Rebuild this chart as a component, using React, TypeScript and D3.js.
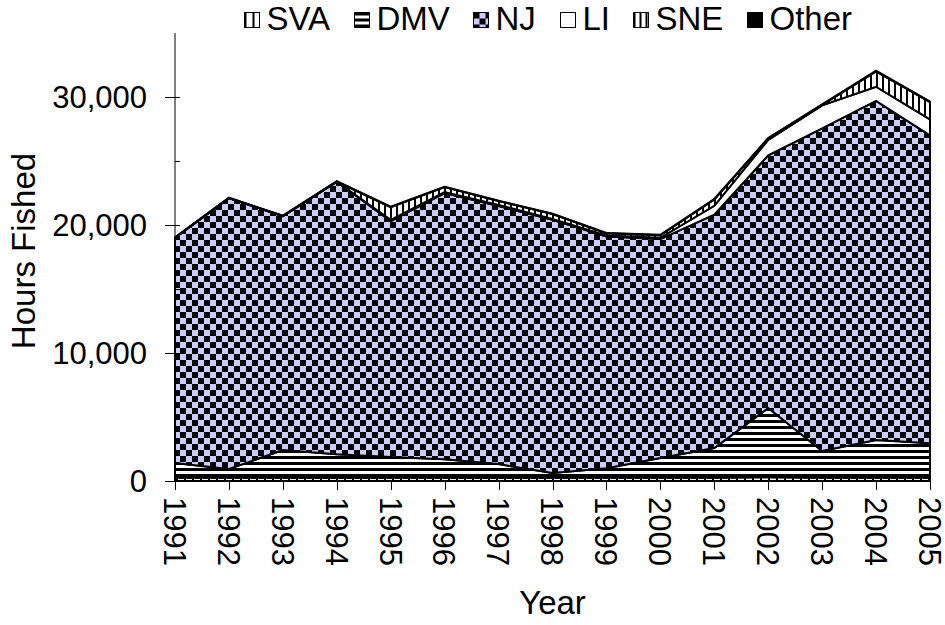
import React, { useEffect, useRef } from 'react';
import * as d3 from 'd3';

// Years on the x axis
const years = [1991, 1992, 1993, 1994, 1995, 1996, 1997, 1998, 1999, 2000, 2001, 2002, 2003, 2004, 2005];

// Hours fished per region (stacked bottom to top)
const sva = [250, 250, 250, 240, 250, 250, 240, 250, 250, 250, 260, 300, 250, 250, 250];
const dmv = [1150, 690, 2170, 1850, 1620, 1450, 1080, 370, 750, 1550, 2320, 5400, 2100, 2950, 2700];
const nj = [17600, 21160, 18280, 21300, 18430, 20800, 20170, 19780, 18100, 17100, 18220, 19750, 25200, 26500, 24050];
const li = [0, 0, 0, 0, 100, 80, 80, 80, 80, 100, 700, 1200, 1800, 1100, 1250];
const sne = [0, 0, 0, 0, 1000, 380, 300, 380, 170, 200, 500, 100, 30, 1200, 1350];
const other = [30, 30, 30, 30, 30, 30, 30, 30, 30, 30, 30, 50, 50, 50, 50];

const seriesNames = ['SVA', 'DMV', 'NJ', 'LI', 'SNE', 'Other'];
const yTicks = [0, 10000, 20000, 30000];
const yMinorTicks = [5000, 15000, 25000];

const FONT = '"Liberation Sans", Arial, sans-serif';

const App = () => {
  const svgRef = useRef(null);

  useEffect(() => {
    if (!svgRef.current) return;
    document.body.style.margin = '0';
    const svg = d3.select(svgRef.current);
    svg.selectAll('*').remove();

    const left = 175;
    const right = 930;
    const top = 33;
    const bottom = 481;

    const x = d3.scalePoint().domain(years.map(String)).range([left, right]);
    const y = d3.scaleLinear().domain([0, 35000]).range([bottom, top]);

    // fill patterns like the old Excel ones
    const defs = svg.append('defs');

    const checker = defs.append('pattern').attr('id', 'pNJ').attr('patternUnits', 'userSpaceOnUse')
      .attr('width', 12).attr('height', 12);
    checker.append('rect').attr('width', 12).attr('height', 12).attr('fill', '#CCCCFF');
    checker.append('rect').attr('width', 6).attr('height', 6).attr('fill', '#000');
    checker.append('rect').attr('x', 6).attr('y', 6).attr('width', 6).attr('height', 6).attr('fill', '#000');

    const hStripe = defs.append('pattern').attr('id', 'pDMV').attr('patternUnits', 'userSpaceOnUse')
      .attr('width', 6).attr('height', 6);
    hStripe.append('rect').attr('width', 6).attr('height', 6).attr('fill', '#fff');
    hStripe.append('rect').attr('width', 6).attr('height', 3).attr('fill', '#000');

    const vStripe = defs.append('pattern').attr('id', 'pSNE').attr('patternUnits', 'userSpaceOnUse')
      .attr('width', 6).attr('height', 6);
    vStripe.append('rect').attr('width', 6).attr('height', 6).attr('fill', '#fff');
    vStripe.append('rect').attr('width', 2).attr('height', 6).attr('fill', '#000');

    const vStripeWide = defs.append('pattern').attr('id', 'pSVA').attr('patternUnits', 'userSpaceOnUse')
      .attr('width', 8).attr('height', 8);
    vStripeWide.append('rect').attr('width', 8).attr('height', 8).attr('fill', '#fff');
    vStripeWide.append('rect').attr('width', 2).attr('height', 8).attr('fill', '#000');

    const fills = {
      SVA: 'url(#pSVA)',
      DMV: 'url(#pDMV)',
      NJ: 'url(#pNJ)',
      LI: '#ffffff',
      SNE: 'url(#pSNE)',
      Other: '#000000'
    };

    const table = years.map((yr, i) => ({
      year: String(yr),
      SVA: sva[i],
      DMV: dmv[i],
      NJ: nj[i],
      LI: li[i],
      SNE: sne[i],
      Other: other[i]
    }));

    const stacked = d3.stack().keys(seriesNames)(table);

    const area = d3.area()
      .x(d => x(d.data.year))
      .y0(d => y(d[0]))
      .y1(d => y(d[1]));

    svg.append('g')
      .selectAll('path')
      .data(stacked)
      .join('path')
      .attr('d', area)
      .attr('fill', d => fills[d.key])
      .attr('stroke', '#000')
      .attr('stroke-width', 2)
      .attr('stroke-linejoin', 'miter');

    // y axis
    const axisColor = '#000';
    svg.append('line')
      .attr('x1', left).attr('x2', left).attr('y1', top).attr('y2', bottom)
      .attr('stroke', axisColor).attr('stroke-width', 1);
    svg.append('g').selectAll('line').data(yTicks).join('line')
      .attr('x1', left - 10).attr('x2', left + 5)
      .attr('y1', d => Math.round(y(d)) + 0.5).attr('y2', d => Math.round(y(d)) + 0.5)
      .attr('stroke', axisColor);
    svg.append('g').selectAll('line').data(yMinorTicks).join('line')
      .attr('x1', left).attr('x2', left + 5)
      .attr('y1', d => Math.round(y(d)) + 0.5).attr('y2', d => Math.round(y(d)) + 0.5)
      .attr('stroke', axisColor);
    svg.append('g').selectAll('text').data(yTicks).join('text')
      .attr('x', 147)
      .attr('y', d => y(d))
      .attr('dy', '0.36em')
      .attr('text-anchor', 'end')
      .style('font-family', FONT)
      .style('font-size', '31px')
      .text(d => d3.format(',')(d));

    svg.append('text')
      .attr('transform', `translate(35, ${(top + bottom) / 2 - 6}) rotate(-90)`)
      .attr('text-anchor', 'middle')
      .style('font-family', FONT)
      .style('font-size', '33px')
      .text('Hours Fished');

    // x axis
    svg.append('line')
      .attr('x1', left).attr('x2', right).attr('y1', bottom + 0.5).attr('y2', bottom + 0.5)
      .attr('stroke', axisColor).attr('stroke-width', 1);
    svg.append('g').selectAll('line').data(years).join('line')
      .attr('x1', d => Math.round(x(String(d))) + 0.5)
      .attr('x2', d => Math.round(x(String(d))) + 0.5)
      .attr('y1', bottom).attr('y2', bottom + 9)
      .attr('stroke', axisColor);
    svg.append('g').selectAll('text').data(years).join('text')
      .attr('transform', d => `translate(${x(String(d))}, 497) rotate(90)`)
      .attr('dy', '0.36em')
      .attr('text-anchor', 'start')
      .style('font-family', FONT)
      .style('font-size', '31px')
      .text(d => d);

    svg.append('text')
      .attr('x', (left + right) / 2)
      .attr('y', 614)
      .attr('text-anchor', 'middle')
      .style('font-family', FONT)
      .style('font-size', '33px')
      .text('Year');

    // legend across the top
    const legend = svg.append('g');
    const items = legend.selectAll('g').data(seriesNames).join('g');
    items.append('rect')
      .attr('width', 15).attr('height', 15).attr('y', 12)
      .attr('fill', d => fills[d])
      .attr('stroke', '#000').attr('stroke-width', 1);
    items.append('text')
      .attr('x', 22).attr('y', 29)
      .style('font-family', FONT)
      .style('font-size', '33px')
      .text(d => d);

    const widths = [];
    items.select('text').each(function () {
      widths.push(22 + this.getComputedTextLength());
    });
    const gap = 24;
    const total = d3.sum(widths) + gap * (widths.length - 1);
    let cursor = 548 - total / 2;
    items.attr('transform', (d, i) => {
      const t = `translate(${Math.round(cursor) + 0.5}, 0.5)`;
      cursor += widths[i] + gap;
      return t;
    });
  }, []);

  return (
    <svg ref={svgRef} width={945} height={625} style={{ display: 'block', background: '#fff' }} />
  );
};

export default App;
